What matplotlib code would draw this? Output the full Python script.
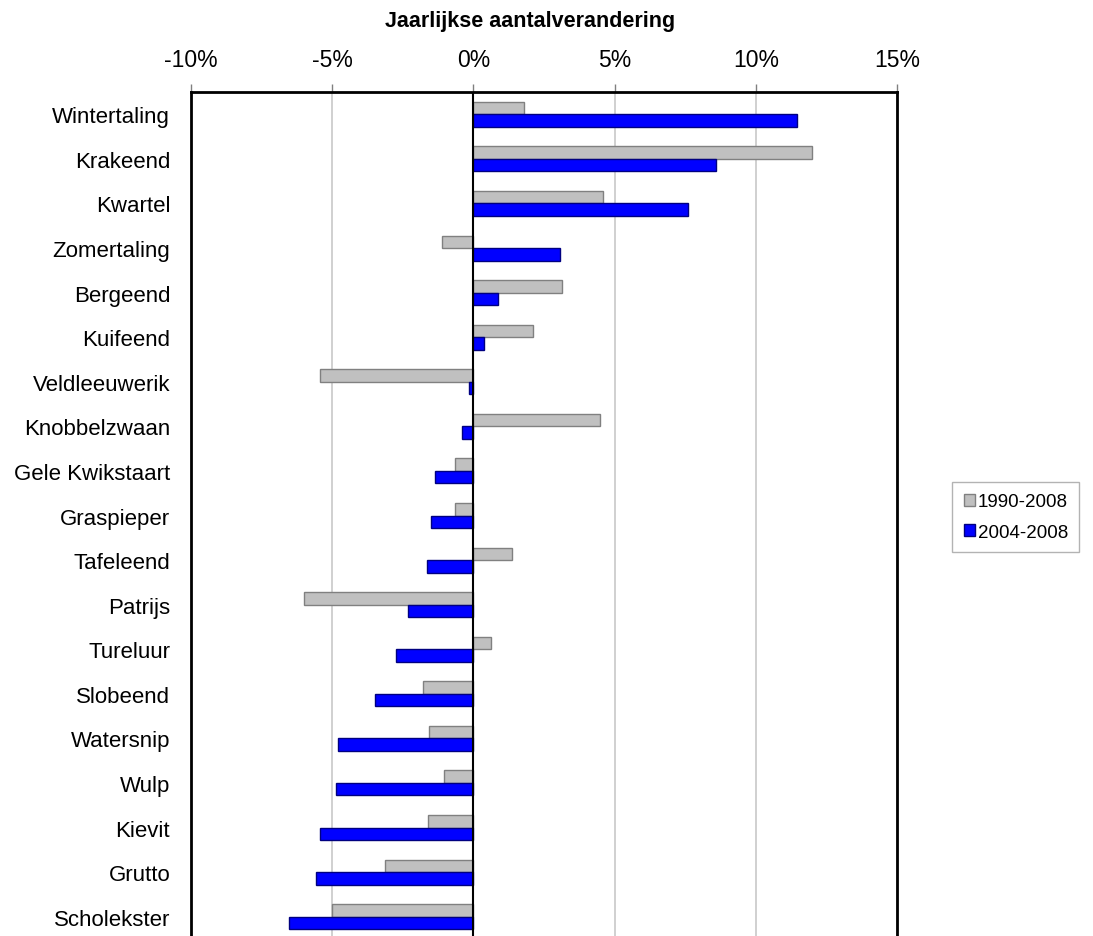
import numpy as np
import matplotlib.pyplot as plt

species = ["Wintertaling", "Krakeend", "Kwartel", "Zomertaling", "Bergeend", "Kuifeend",
           "Veldleeuwerik", "Knobbelzwaan", "Gele Kwikstaart", "Graspieper", "Tafeleend",
           "Patrijs", "Tureluur", "Slobeend", "Watersnip", "Wulp", "Kievit", "Grutto",
           "Scholekster"]
trend_1990_2008 = [1.78, 11.99, 4.59, -1.11, 3.14, 2.10, -5.44, 4.47, -0.66, -0.66, 1.36,
                   -6.00, 0.61, -1.79, -1.58, -1.03, -1.62, -3.14, -5.01]
trend_2004_2008 = [11.47, 8.60, 7.59, 3.08, 0.88, 0.39, -0.14, -0.39, -1.37, -1.52, -1.66,
                   -2.33, -2.76, -3.50, -4.81, -4.85, -5.45, -5.58, -6.54]
xticks = [-10, -5, 0, 5, 10, 15]

plt.rcParams["font.family"] = ["Liberation Sans", "DejaVu Sans"]

fig = plt.figure(figsize=(10.93, 9.37), dpi=100)
ax = fig.add_axes([0.1748, -0.0032, 0.6459, 0.9039])

y = np.arange(len(species))
h = 0.28
ax.barh(y - h / 2, trend_1990_2008, height=h, color="#c0c0c0", edgecolor="#808080",
        linewidth=1, label="1990-2008", zorder=3)
ax.barh(y + h / 2, trend_2004_2008, height=h, color="#0000ff", edgecolor="#000080",
        linewidth=1, label="2004-2008", zorder=3)

ax.set_xlim(-10, 15)
ax.set_ylim(len(species) - 0.5, -0.5)
ax.set_xticks(xticks)
ax.set_xticklabels([f"{t}%" for t in xticks])
ax.xaxis.tick_top()
ax.tick_params(axis="x", direction="out", length=6, color="#808080", width=1,
               labelsize=16.5, pad=9)
ax.set_yticks(y)
ax.set_yticklabels(species)
ax.tick_params(axis="y", length=0, labelsize=16, pad=15)

ax.grid(axis="x", color="#c8c8c8", linewidth=1.2, zorder=0)
ax.axvline(0, color="black", linewidth=1.5, zorder=4)
for side in ["top", "left", "right"]:
    ax.spines[side].set_linewidth(2)
    ax.spines[side].set_color("black")
ax.spines["bottom"].set_visible(False)

fig.text(0.485, 1 - 21 / 937, "Jaarlijkse aantalverandering", ha="center", va="center",
         fontsize=15.5, fontweight="bold")

leg = fig.legend(loc="center left", bbox_to_anchor=(943 / 1093, 1 - 518 / 937),
                 fontsize=13.5, frameon=True, fancybox=False, edgecolor="#a0a0a0",
                 handlelength=0.6, handleheight=0.6, handletextpad=0.15,
                 labelspacing=0.7, borderpad=0.6)
leg.get_frame().set_linewidth(1)

fig.savefig("out.png", dpi=100)
plt.close(fig)
